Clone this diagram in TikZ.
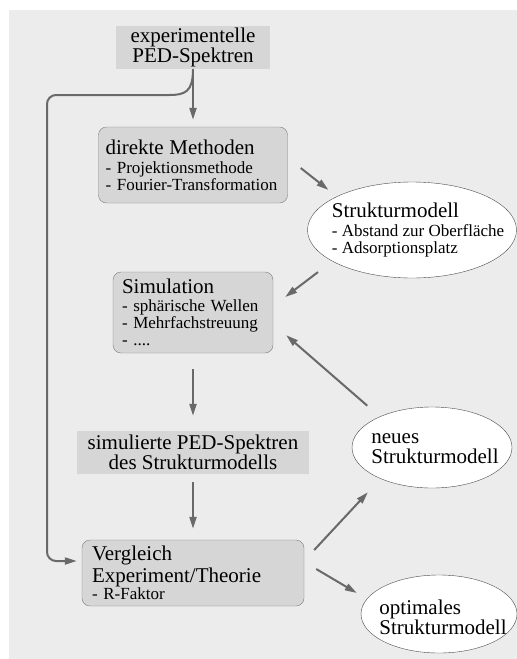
\documentclass[tikz,border=0pt]{standalone}
\usepackage{fontspec}
\setmainfont{Liberation Serif}
\usetikzlibrary{shapes.geometric,arrows.meta}

\definecolor{hinten}{RGB}{236,236,236}
\definecolor{kasten}{RGB}{214,214,214}
\definecolor{rand}{RGB}{125,125,125}
\definecolor{pfeilgrau}{RGB}{105,105,105}

\newcommand{\kopf}{\fontsize{21}{20}\selectfont}
\newcommand{\liste}{\fontsize{17}{17}\selectfont}

\tikzset{
  flach/.style = {fill=kasten, inner sep=0pt, align=center, font=\kopf},
  methode/.style = {fill=kasten, draw=rand, rounded corners=8pt, inner sep=0pt, align=left, font=\liste},
  modell/.style = {ellipse, draw=black!70, fill=white, inner sep=0pt},
  pfeil/.style = {draw=pfeilgrau, line width=2pt, -{Triangle[length=12pt,width=7pt]}}
}

\begin{document}
\begin{tikzpicture}[x=1pt, y=-1pt]
\useasboundingbox (0,0) rectangle (517,659);
\fill[hinten] (9,10) rectangle (517,659);

% Kaesten
\node[flach, minimum width=154pt, minimum height=43pt] (exp) at (193,47.5) {experimentelle\\PED-Spektren};
\node[methode, minimum width=189pt, minimum height=76pt, text width=175pt] (direkt) at (193,165)
   {{\kopf direkte Methoden}\\[2pt] - Projektionsmethode\\ - Fourier-Transformation};
\node[methode, minimum width=160pt, minimum height=81pt, text width=142pt] (simul) at (193,312.5)
   {{\kopf Simulation}\\[1pt] - sphärische Wellen\\ - Mehrfachstreuung\\ - ....};
\node[flach, minimum width=232pt, minimum height=43pt] (spektren) at (193,452.5) {simulierte PED-Spektren\\des Strukturmodells};
\node[methode, minimum width=222pt, minimum height=66pt, text width=202pt] (vergl) at (193,573)
   {{\kopf Vergleich}\\[2pt] {\kopf Experiment/Theorie}\\[0pt] - R-Faktor};

% Modelle
\node[modell, minimum width=209pt, minimum height=96pt] (struktur) at (412,230) {};
\node[align=left, font=\liste] (struktur-text) at (418,230)
   {{\kopf Strukturmodell}\\[2pt] - Abstand zur Oberfläche\\ - Adsorptionsplatz};
\node[modell, minimum width=160pt, minimum height=81pt] (neues) at (432,447.5) {};
\node[align=left, font=\kopf] (neues-text) at (435,449) {neues\\Strukturmodell};
\node[modell, minimum width=156pt, minimum height=78pt] (optimal) at (439,614) {};
\node[align=left, font=\kopf] (optimal-text) at (443,617) {optimales\\Strukturmodell};

% Pfeile
\draw[pfeil, shorten >=7pt] (exp.south) -- (direkt.north);
\draw[pfeil] ([shift={(13,3)}]direkt.east) -- ([shift={(-9.5,-6)}]struktur.north west);
\draw[pfeil] ([shift={(-20,8)}]struktur.south west) -- ([shift={(12,-15.5)}]simul.east);
\draw[pfeil] ([shift={(-8,-13)}]neues.north west) -- ([shift={(13,-18)}]simul.south east);
\draw[pfeil, shorten <=16pt, shorten >=15pt] (simul.south) -- (spektren.north);
\draw[pfeil, shorten <=8pt, shorten >=11pt] (spektren.south) -- (vergl.north);
\draw[pfeil] ([shift={(10,-23)}]vergl.east) -- ([shift={(-7.4,16)}]neues.south west);
\draw[pfeil] ([shift={(12,-4)}]vergl.east) -- ([shift={(-4,-21)}]optimal.west);

% Rueckfuehrung
\coordinate (eingang) at ([shift={(0,-12)}]vergl.west);
\coordinate (knick) at (47,95);
\draw[pfeil, shorten >=5pt, rounded corners=9pt] (exp.south) .. controls (193,92) and (185,95) .. (160,95)
   -- (knick) -- (knick |- eingang) -- (eingang);
\end{tikzpicture}
\end{document}
